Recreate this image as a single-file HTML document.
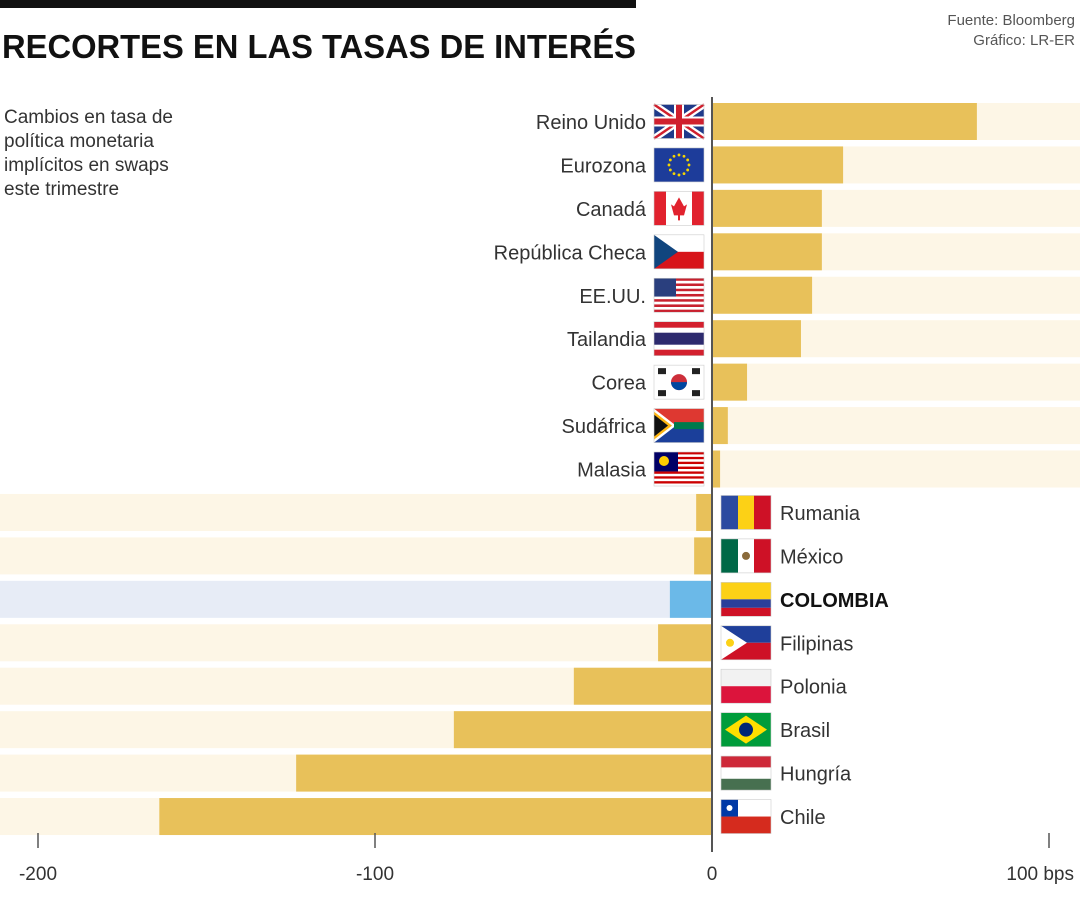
<!DOCTYPE html>
<html><head><meta charset="utf-8"><style>
body{margin:0;background:#fff;}
svg{display:block;font-family:"Liberation Sans",sans-serif;}
</style></head><body>
<svg id="c" width="1080" height="900" viewBox="0 0 1080 900">
<rect x="0" y="0" width="636" height="8" fill="#111"/>
<text x="2" y="58" font-size="33" font-weight="bold" fill="#111" textLength="634" lengthAdjust="spacingAndGlyphs">RECORTES EN LAS TASAS DE INTERÉS</text>
<text x="1075" y="25" font-size="15" fill="#555" text-anchor="end">Fuente: Bloomberg</text>
<text x="1075" y="45" font-size="15" fill="#555" text-anchor="end">Gráfico: LR-ER</text>
<g font-size="19" fill="#333">
<text x="4" y="123">Cambios en tasa de</text>
<text x="4" y="147">política monetaria</text>
<text x="4" y="171">implícitos en swaps</text>
<text x="4" y="195">este trimestre</text>
</g>
<g id="bars"></g>
</svg>
<script>
const countries=["Reino Unido","Eurozona","Canadá","República Checa","EE.UU.","Tailandia","Corea","Sudáfrica","Malasia","Rumania","México","COLOMBIA","Filipinas","Polonia","Brasil","Hungría","Chile"];
const values=[78.6,38.9,32.6,32.6,29.7,26.4,10.4,4.7,2.4,-4.7,-5.3,-12.5,-16,-41,-76.6,-123.4,-164];
const ticks=[-200,-100,0,100];
const tickLabels=["-200","-100","0","100 bps"];
const ns="http://www.w3.org/2000/svg";
const g=document.getElementById('bars');
const X=v=>712+v*3.37;
const Y=i=>103+i*43.44;
const BH=37;
function mk(t,a,p){const e=document.createElementNS(ns,t);for(const k in a)e.setAttribute(k,a[k]);(p||g).appendChild(e);return e;}
function flag(name,x,y,p){const w=50,h=34;const f=mk('g',{},p);
 const r=(a,b,c,d,col)=>mk('rect',{x:x+a,y:y+b,width:c,height:d,fill:col},f);
 switch(name){
 case "Reino Unido":r(0,0,w,h,'#1f3a8a');mk('path',{d:`M${x} ${y}L${x+w} ${y+h}M${x+w} ${y}L${x} ${y+h}`,stroke:'#fff','stroke-width':7},f);mk('path',{d:`M${x} ${y}L${x+w} ${y+h}M${x+w} ${y}L${x} ${y+h}`,stroke:'#d0202e','stroke-width':2.5},f);r(20,0,10,h,'#fff');r(0,12,w,10,'#fff');r(22,0,6,h,'#d0202e');r(0,14,w,6,'#d0202e');break;
 case "Eurozona":r(0,0,w,h,'#1d3c9a');for(let k=0;k<12;k++){const a=k*Math.PI/6;mk('circle',{cx:x+25+10*Math.cos(a),cy:y+17+10*Math.sin(a),r:1.4,fill:'#f5d400'},f);}break;
 case "Canadá":r(0,0,w,h,'#fff');r(0,0,12,h,'#e1222e');r(38,0,12,h,'#e1222e');mk('path',{d:`M${x+25} ${y+6}L${x+30} ${y+15}L${x+33} ${y+13}L${x+30} ${y+24}L${x+26} ${y+24}L${x+26} ${y+29}L${x+24} ${y+29}L${x+24} ${y+24}L${x+20} ${y+24}L${x+17} ${y+13}L${x+20} ${y+15}Z`,fill:'#e1222e'},f);break;
 case "República Checa":r(0,0,w,h/2,'#fff');r(0,h/2,w,h/2,'#d7141a');mk('path',{d:`M${x} ${y}L${x+24} ${y+h/2}L${x} ${y+h}Z`,fill:'#11457e'},f);break;
 case "EE.UU.":for(let k=0;k<13;k++)r(0,k*h/13,w,h/13,k%2?'#fff':'#c8202e');r(0,0,22,h*7/13,'#2a3f7e');break;
 case "Tailandia":r(0,0,w,h,'#d3202e');r(0,6,w,22,'#fff');r(0,11,w,12,'#2d2a6e');break;
 case "Corea":r(0,0,w,h,'#fff');mk('circle',{cx:x+25,cy:y+17,r:8,fill:'#cd2e3a'},f);mk('path',{d:`M${x+17} ${y+17}A8 8 0 0 0 ${x+33} ${y+17}Z`,fill:'#0047a0'},f);[[8,6],[42,6],[8,28],[42,28]].forEach(q=>r(q[0]-4,q[1]-3,8,6,'#222'));break;
 case "Sudáfrica":r(0,0,w,h/2,'#de3831');r(0,h/2,w,h/2,'#1b3f9a');mk('path',{d:`M${x} ${y}L${x+22} ${y+h/2}L${x} ${y+h}Z`,fill:'#fff'},f);mk('path',{d:`M${x} ${y+3}L${x+18} ${y+h/2}L${x} ${y+h-3}Z`,fill:'#ffb612'},f);mk('path',{d:`M${x} ${y+6}L${x+14} ${y+h/2}L${x} ${y+h-6}Z`,fill:'#111'},f);mk('path',{d:`M${x+20} ${y+h/2}L${x+w} ${y+h/2}`,stroke:'#007a4d','stroke-width':7},f);break;
 case "Malasia":for(let k=0;k<14;k++)r(0,k*h/14,w,h/14,k%2?'#fff':'#cc0001');r(0,0,24,h*8/14,'#010066');mk('circle',{cx:x+10,cy:y+9,r:5,fill:'#fc0'},f);break;
 case "Rumania":r(0,0,17,h,'#2b4aa0');r(17,0,16,h,'#fcd116');r(33,0,17,h,'#ce1126');break;
 case "México":r(0,0,17,h,'#006847');r(17,0,16,h,'#fff');r(33,0,17,h,'#ce1126');mk('circle',{cx:x+25,cy:y+17,r:4,fill:'#8a6a3a'},f);break;
 case "COLOMBIA":r(0,0,w,h/2,'#fcd116');r(0,h/2,w,h/4,'#2a3f9a');r(0,h*3/4,w,h/4,'#ce1126');break;
 case "Filipinas":r(0,0,w,h/2,'#1f3f9a');r(0,h/2,w,h/2,'#ce1126');mk('path',{d:`M${x} ${y}L${x+26} ${y+h/2}L${x} ${y+h}Z`,fill:'#fff'},f);mk('circle',{cx:x+9,cy:y+17,r:4,fill:'#fcd116'},f);break;
 case "Polonia":r(0,0,w,h/2,'#f2f2f2');r(0,h/2,w,h/2,'#dc143c');break;
 case "Brasil":r(0,0,w,h,'#009c3b');mk('path',{d:`M${x+25} ${y+3}L${x+46} ${y+17}L${x+25} ${y+31}L${x+4} ${y+17}Z`,fill:'#ffdf00'},f);mk('circle',{cx:x+25,cy:y+17,r:7,fill:'#002776'},f);break;
 case "Hungría":r(0,0,w,h/3,'#ce2939');r(0,h/3,w,h/3,'#fff');r(0,2*h/3,w,h/3,'#477050');break;
 case "Chile":r(0,0,w,h/2,'#fff');r(0,h/2,w,h/2,'#d52b1e');r(0,0,17,h/2,'#0039a6');mk('circle',{cx:x+8.5,cy:y+8.5,r:3,fill:'#fff'},f);break;
 }
 mk('rect',{x:x,y:y,width:w,height:h,fill:'none',stroke:'#ccc','stroke-width':0.6},f);
}
countries.forEach((c,i)=>{
 const v=values[i],y=Y(i),col=c==="COLOMBIA";
 const row=mk('g',{});
 
 
 const bg=mk('rect',{x:v>=0?X(0):0,y:y,width:v>=0?1080-X(0):X(0),height:BH,fill:col?'#e7ecf6':'#fdf6e6'},row);
 
 
 const b=mk('rect',{x:Math.min(X(0),X(v)),y:y,width:Math.abs(X(v)-X(0)),height:BH,fill:col?'#6bb9e8':'#e8c15a'},row);
 
 
 if(v>=0){flag(c,654,y+1.5,row);const t=mk('text',{x:646,y:y+26,'font-size':20,fill:'#333','text-anchor':'end'},row);t.textContent=c;}
 else{flag(c,721,y+1.5,row);const t=mk('text',{x:780,y:y+26,'font-size':20,fill:col?'#111':'#333','font-weight':col?'bold':'normal'},row);t.textContent=c;}
});
const ax=mk('line',{x1:X(0),x2:X(0),y1:97,y2:852,stroke:'#555','stroke-width':2});


ticks.forEach((t,i)=>{
 if(t!==0){const l=mk('line',{x1:X(t),x2:X(t),y1:833,y2:848,stroke:'#555','stroke-width':1.5});}
 const last=i===ticks.length-1;
 const tx=mk('text',{x:last?1074:X(t),y:880,'font-size':19,fill:'#333','text-anchor':last?'end':'middle'});
 tx.textContent=tickLabels[i];
 
 
});
</script>
</body></html>
